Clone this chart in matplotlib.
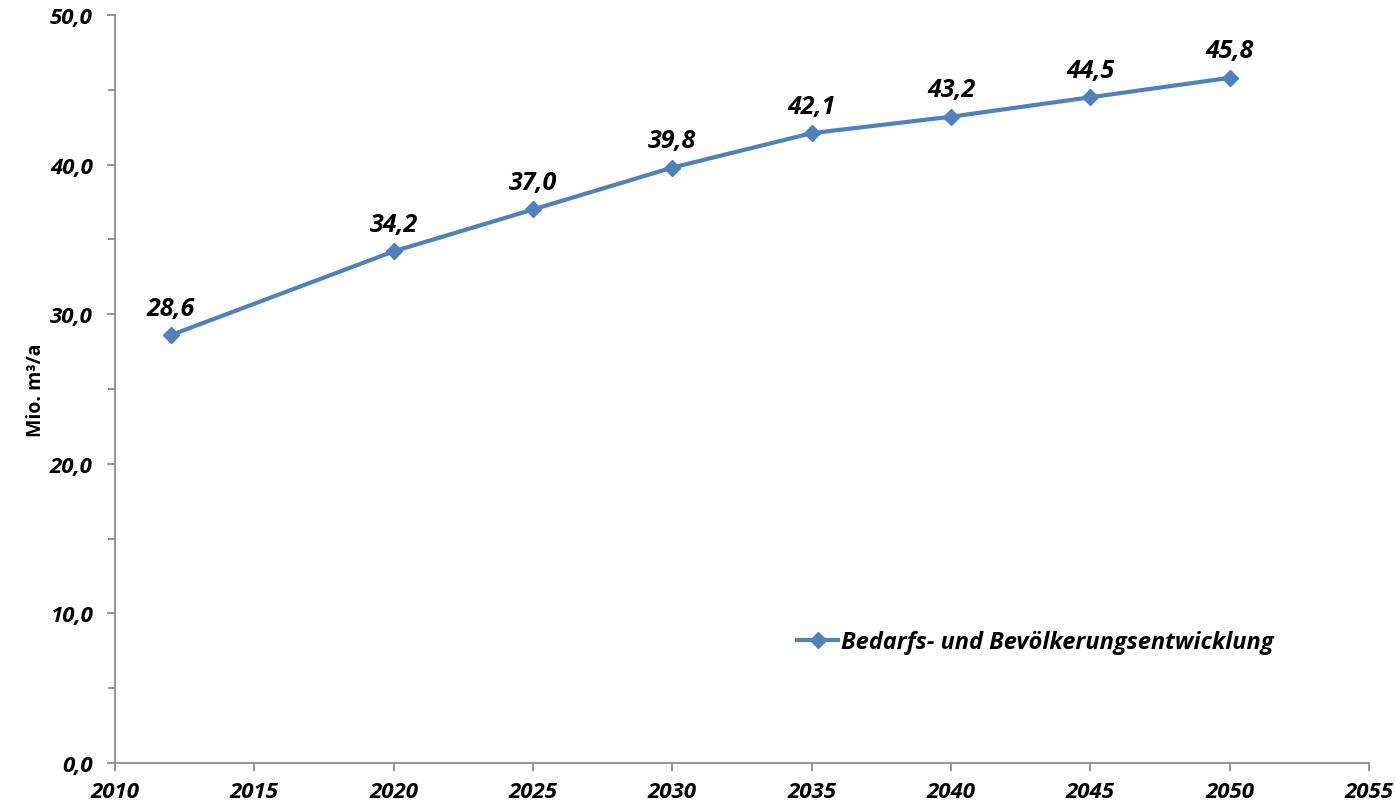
import matplotlib
matplotlib.use("Agg")
import matplotlib.pyplot as plt
from matplotlib.ticker import MultipleLocator, FuncFormatter

years = [2012, 2020, 2025, 2030, 2035, 2040, 2045, 2050]
values = [28.6, 34.2, 37.0, 39.8, 42.1, 43.2, 44.5, 45.8]
series_name = "Bedarfs- und Bevölkerungsentwicklung"

plt.rcParams["font.family"] = ["Open Sans", "DejaVu Sans"]
blue = "#4F81BD"
grey = "#8C8C8C"
bi = {"fontweight": "bold", "fontstyle": "italic"}

fig = plt.figure(figsize=(13.95, 8.04), dpi=100)
ax = fig.add_axes([115 / 1395, 40 / 804, (1369 - 115) / 1395, (764 - 16) / 804])

ax.plot(years, values, color=blue, lw=3, marker="D", ms=8, label=series_name)

for x, y in zip(years, values):
    ax.annotate(f"{y:.1f}".replace(".", ","), (x, y), xytext=(0, 19.5),
                textcoords="offset points", ha="center", va="center",
                fontsize=18, **bi)

ax.set_xlim(2010, 2055)
ax.set_ylim(0, 50)
ax.xaxis.set_major_locator(MultipleLocator(5))
ax.yaxis.set_major_locator(MultipleLocator(10))
ax.yaxis.set_minor_locator(MultipleLocator(5))
ax.yaxis.set_major_formatter(FuncFormatter(lambda v, p: f"{v:.1f}".replace(".", ",")))

for s in ["top", "right"]:
    ax.spines[s].set_visible(False)
for s in ["left", "bottom"]:
    ax.spines[s].set_color(grey)
    ax.spines[s].set_linewidth(1.3)

ax.tick_params(which="both", direction="out", color=grey, width=1.3)
ax.tick_params(which="major", length=6)
ax.tick_params(axis="y", which="major", pad=10)
ax.tick_params(axis="x", which="major", pad=7)
ax.tick_params(which="minor", length=5)
for lab in ax.get_xticklabels() + ax.get_yticklabels():
    lab.set_fontsize(16)
    lab.set_fontweight("bold")
    lab.set_fontstyle("italic")

ax.set_ylabel("Mio. m³/a", fontsize=14, fontweight="bold", labelpad=3)

leg = ax.legend(loc="center left", bbox_to_anchor=((797 - 115) / 1254, (764 - 643) / 748),
                frameon=False, handlelength=1.75, handletextpad=0.1, borderpad=0,
                borderaxespad=0,
                prop={"size": 17, "weight": "bold", "style": "italic"})

fig.savefig("out.png", dpi=100)
